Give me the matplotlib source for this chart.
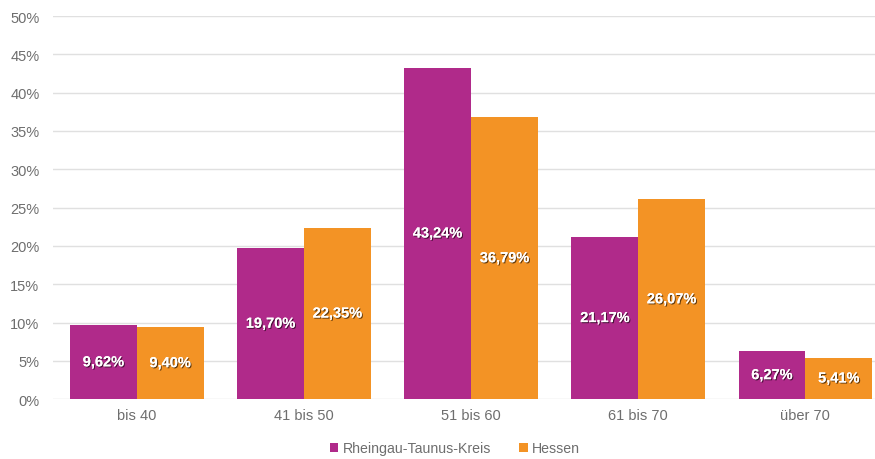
import matplotlib.pyplot as plt
import matplotlib.patheffects as pe
import numpy as np

plt.rcParams['font.family'] = ['Liberation Sans', 'DejaVu Sans']

categories = ["bis 40", "41 bis 50", "51 bis 60", "61 bis 70", "über 70"]
rtk = [9.62, 19.70, 43.24, 21.17, 6.27]
hessen = [9.40, 22.35, 36.79, 26.07, 5.41]
series_names = ["Rheingau-Taunus-Kreis", "Hessen"]

purple = "#B02A8A"
orange = "#F39325"
grey = "#6E6E6E"

fig = plt.figure(figsize=(8.75, 4.6), dpi=100)
ax = fig.add_axes([0.061, 0.13, 0.955, 0.833])

x = np.arange(len(categories))
w = 0.4
b1 = ax.bar(x - w / 2, rtk, w, color=purple, label=series_names[0], zorder=3)
b2 = ax.bar(x + w / 2, hessen, w, color=orange, label=series_names[1], zorder=3)

shadow = [pe.withSimplePatchShadow(offset=(0.8, -0.8), shadow_rgbFace="black", alpha=0.6), pe.Normal()]
for bars, vals in [(b1, rtk), (b2, hessen)]:
    for bar, v in zip(bars, vals):
        ax.text(bar.get_x() + bar.get_width() / 2, v / 2, f"{v:.2f}%".replace(".", ","),
                ha="center", va="center", color="white", fontsize=10.5, fontweight="bold",
                path_effects=shadow, zorder=4)

ax.set_xlim(-0.5, 4.5)
ax.set_ylim(0, 50)
ax.set_yticks(range(0, 51, 5))
ax.set_yticklabels([f"{t}%" for t in range(0, 51, 5)])
ax.set_xticks(x)
ax.set_xticklabels(categories)
ax.tick_params(axis="both", length=0, colors=grey, labelsize=10.5)
ax.tick_params(axis="x", pad=6)
ax.tick_params(axis="y", pad=10)
ax.grid(axis="y", color="#E0E0E0", linewidth=1, zorder=0)
for s in ax.spines.values():
    s.set_visible(False)

fig.legend(loc="lower center", bbox_to_anchor=(0.52, -0.02), ncol=2, frameon=False,
           fontsize=10.2, handlelength=0.6, handleheight=0.6, handletextpad=0.3,
           columnspacing=2.0, labelcolor=grey)

fig.savefig("out.png")
